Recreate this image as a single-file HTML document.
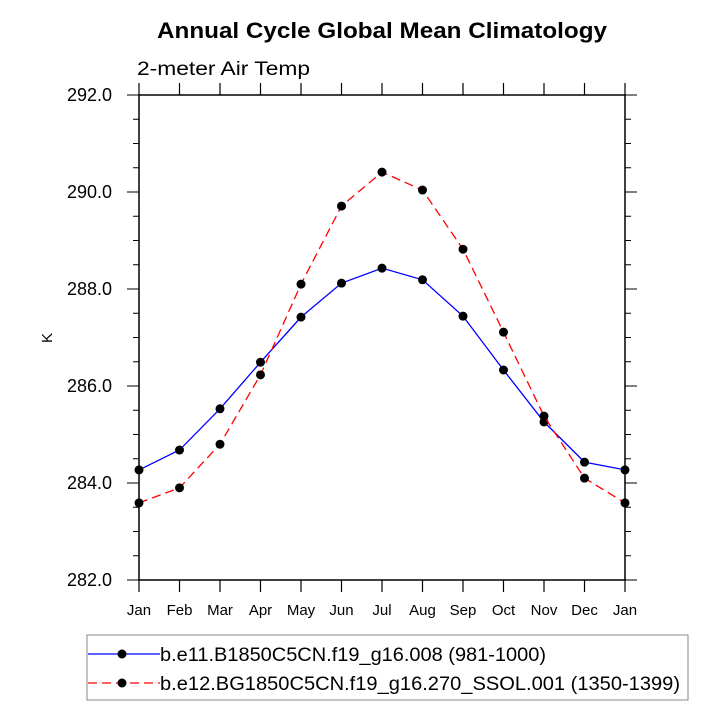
<!DOCTYPE html>
<html><head><meta charset="utf-8"><style>
body{margin:0;background:#fff}
svg text{font-family:"Liberation Sans",Helvetica,sans-serif}
</style></head><body>
<svg id="c" width="720" height="720" xmlns="http://www.w3.org/2000/svg">
<text x="157" y="38" font-size="22" font-weight="bold" textLength="450" lengthAdjust="spacingAndGlyphs">Annual Cycle Global Mean Climatology</text>
<text x="137" y="75" font-size="19" textLength="173" lengthAdjust="spacingAndGlyphs">2-meter Air Temp</text>
<text x="52" y="338" font-size="15" text-anchor="middle" transform="rotate(-90 52 338)">K</text>
<g id="axes"></g>
<g id="series"></g>
<rect x="87" y="635" width="601" height="65" fill="none" stroke="#888" stroke-width="1"/>
<g>
<line x1="88" y1="654" x2="160" y2="654" stroke="#0000ff" stroke-width="1.2"/>
<circle cx="122" cy="654" r="4.5" fill="#000"/>
<text x="160" y="661" font-size="19" textLength="386" lengthAdjust="spacingAndGlyphs">b.e11.B1850C5CN.f19_g16.008 (981-1000)</text>
</g>
<g>
<line x1="88" y1="683" x2="160" y2="683" stroke="#ff0000" stroke-width="1.2" stroke-dasharray="9,5"/>
<circle cx="122" cy="683" r="4.5" fill="#000"/>
<text x="160" y="690" font-size="19" textLength="520" lengthAdjust="spacingAndGlyphs">b.e12.BG1850C5CN.f19_g16.270_SSOL.001 (1350-1399)</text>
</g>
</svg>
<script>
const months=["Jan","Feb","Mar","Apr","May","Jun","Jul","Aug","Sep","Oct","Nov","Dec","Jan"];
const blueVals=[284.27,284.68,285.53,286.49,287.42,288.12,288.43,288.19,287.44,286.33,285.26,284.43,284.27];
const redVals=[283.59,283.90,284.80,286.23,288.10,289.71,290.41,290.04,288.82,287.11,285.38,284.10,283.59];
const yTicks=[282,284,286,288,290,292];
const L=139,R=625,T=95,B=580,ymin=282,ymax=292;
const NS="http://www.w3.org/2000/svg";
const xs=i=>L+(R-L)*i/(months.length-1);
const ys=v=>B-(B-T)*(v-ymin)/(ymax-ymin);
function mk(tag,attrs,parent){const e=document.createElementNS(NS,tag);for(const k in attrs)e.setAttribute(k,attrs[k]);parent.appendChild(e);return e;}
const ax=document.getElementById('axes');
const fr=mk('rect',{x:L,y:T,width:R-L,height:B-T,fill:'none',stroke:'#000','stroke-width':1.5},ax);


months.forEach((m,i)=>{
  const x=xs(i);
  mk('line',{x1:x,y1:B,x2:x,y2:B+12,stroke:'#000','stroke-width':1.2},ax);
  mk('line',{x1:x,y1:T,x2:x,y2:T-12,stroke:'#000','stroke-width':1.2},ax);
  const t=mk('text',{x:x,y:B+35,'text-anchor':'middle','font-size':15},ax);
  t.textContent=m;
  
  
});
for(let v=ymin;v<=ymax+1e-9;v+=0.5){
  const y=ys(v),maj=Math.abs(v-Math.round(v/2)*2)<1e-9,len=maj?12:6;
  mk('line',{x1:L,y1:y,x2:L-len,y2:y,stroke:'#000','stroke-width':1},ax);
  mk('line',{x1:R,y1:y,x2:R+len,y2:y,stroke:'#000','stroke-width':1},ax);
}
yTicks.forEach(v=>{
  const t=mk('text',{x:112,y:ys(v)+6,'text-anchor':'end','font-size':18},ax);
  t.textContent=v.toFixed(1);
  
  
});
const sg=document.getElementById('series');
function series(vals,color,dash,name){
  const g=mk('g',{},sg);
  
  
  const a={points:vals.map((v,i)=>xs(i)+','+ys(v)).join(' '),fill:'none',stroke:color,'stroke-width':1.3};
  if(dash)a['stroke-dasharray']=dash;
  mk('polyline',a,g);
  vals.forEach((v,i)=>{
    const c=mk('circle',{cx:xs(i),cy:ys(v),r:4.5,fill:'#000'},g);
    
    
  });
}
series(blueVals,'#0000ff',null,'series-b1850');
series(redVals,'#ff0000','9,5','series-bg1850-ssol');
</script>
</body></html>
